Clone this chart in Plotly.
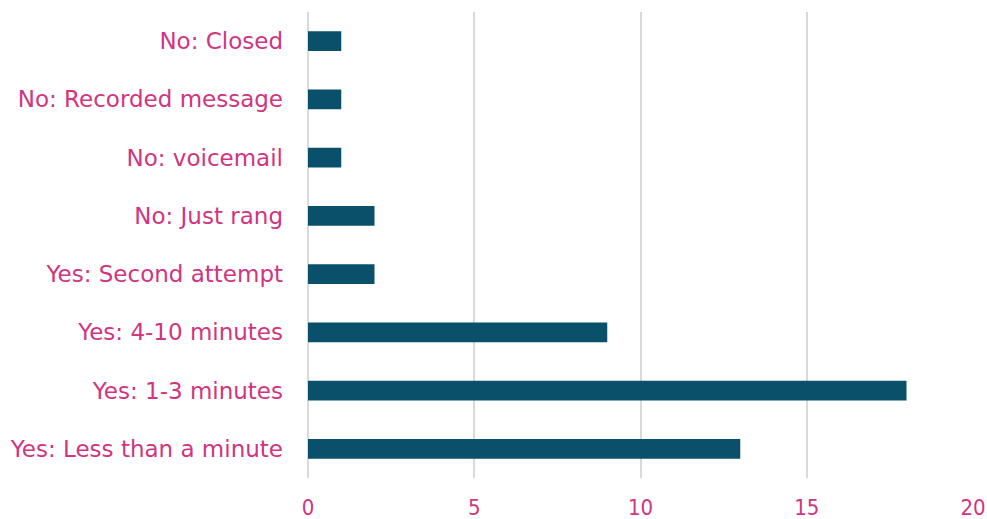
import plotly.graph_objects as go

categories = ["Yes: Less than a minute", "Yes: 1-3 minutes", "Yes: 4-10 minutes",
              "Yes: Second attempt", "No: Just rang", "No: voicemail",
              "No: Recorded message", "No: Closed"]
values = [13, 18, 9, 2, 2, 1, 1, 1]
x_ticks = [0, 5, 10, 15, 20]

pink = "#D0357F"
fig = go.Figure(go.Bar(
    x=values, y=categories, orientation="h",
    marker=dict(color="#0A506B", line=dict(width=0)),
    width=0.34,
))
fig.update_layout(
    width=987, height=519,
    margin=dict(l=308, r=14, t=12, b=41),
    plot_bgcolor="white", paper_bgcolor="white",
    showlegend=False,
    font=dict(family="DejaVu Sans", size=18, color=pink),
)
fig.update_xaxes(range=[0, 20], tickvals=x_ticks, showgrid=True,
                 gridcolor="#D9D9D9", gridwidth=1.5, zeroline=True,
                 zerolinecolor="#D9D9D9", zerolinewidth=1.5,
                 showline=False, ticklabelstandoff=14, automargin=False,
                 tickfont=dict(family="DejaVu Sans Condensed, DejaVu Sans",
                               size=22, color=pink))
fig.update_yaxes(categoryorder="array", categoryarray=categories,
                 showgrid=False, showline=False, ticklabelstandoff=24,
                 automargin=False,
                 tickfont=dict(size=23, color=pink))
fig.write_html("out.html",
               config={"displayModeBar": False},
               post_script="document.body.style.margin='0';"
                           "document.body.style.overflow='hidden';")
